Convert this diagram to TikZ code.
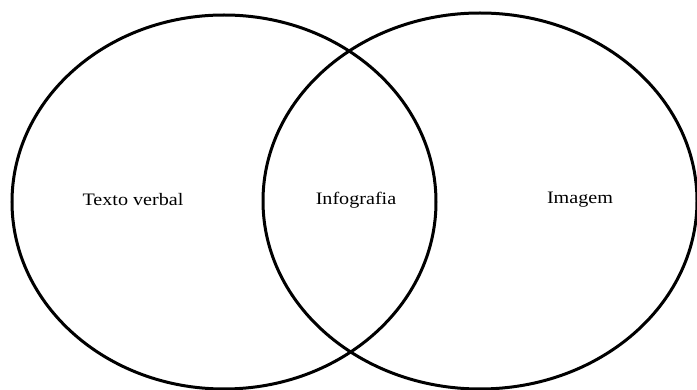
\documentclass[tikz,border=0pt]{standalone}
\usepackage{fontspec}
\setmainfont{Liberation Serif}

\newcommand{\largo}[1]{\scalebox{1.15}[1]{#1}}

\begin{document}
\begin{tikzpicture}[x=1pt,y=-1pt,
    conjunto/.style={line width=3pt},
    rotulo/.style={font={\fontsize{17.5}{20}\selectfont},inner sep=0pt}]

\useasboundingbox(0,0)rectangle(697,390);
\clip(0,0)rectangle(697,390);

\draw[conjunto](224,202) ellipse (212 and 187);
\draw[conjunto](480,201) ellipse (217 and 188);

\node[rotulo] (verbal) at (133,200){\largo{Texto verbal}};
\node[rotulo] (info) at (356,200){\largo{Infografia}};
\node[rotulo] (imagem) at (580,200){\largo{Imagem}};

\end{tikzpicture}
\end{document}
